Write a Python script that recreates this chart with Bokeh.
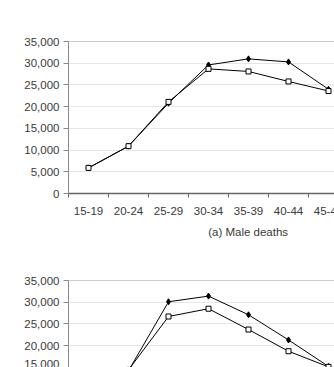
from bokeh.plotting import figure
from bokeh.layouts import column
from bokeh.models import Range1d, FixedTicker, NumeralTickFormatter, Span
from bokeh.core.properties import value
from bokeh.embed import file_html
from bokeh.resources import INLINE

# Age groups on the category axis
age_groups = ["15-19", "20-24", "25-29", "30-34", "35-39", "40-44", "45-49"]

# Male deaths, two series (open squares / filled diamonds)
male_open = [5900, 10900, 21100, 28700, 28100, 25800, 23600]
male_filled = [5900, 10900, 20800, 29600, 31000, 30300, 24000]

# Female deaths, two series (open squares / filled diamonds)
female_open = [5300, 14400, 26700, 28500, 23700, 18700, 15100]
female_filled = [5400, 14200, 30100, 31400, 27100, 21300, 15200]

y_ticks = [0, 5000, 10000, 15000, 20000, 25000, 30000, 35000]

heading = "and female deaths in 2009/2010"
caption_male = "(a) Male deaths"

FONT = "Liberation Sans"
TXT = "#3a3a3a"

centers = [i + 0.5 for i in range(len(age_groups))]
x_range = Range1d(0, 6.65)


def strip(height):
    """A bare strip sharing the x scale, used only to carry text."""
    f = figure(width=334, height=height, x_range=x_range,
               y_range=Range1d(0, height), output_backend="svg",
               toolbar_location=None, min_border_left=68, min_border_right=0,
               min_border_top=0, min_border_bottom=0)
    f.axis.visible = False
    f.grid.visible = False
    f.outline_line_color = None
    return f


def style_y(p):
    ax = p.yaxis[0]
    ax.ticker = FixedTicker(ticks=y_ticks, minor_ticks=[])
    ax.formatter = NumeralTickFormatter(format="0,0")
    ax.major_tick_out = 5
    ax.major_tick_in = 0
    ax.axis_line_color = "#8a8a8a"
    ax.major_tick_line_color = "#8a8a8a"
    ax.major_label_text_font = FONT
    ax.major_label_text_font_size = "11.5px"
    ax.major_label_text_color = TXT
    ax.major_label_standoff = 4
    p.ygrid.ticker = FixedTicker(ticks=y_ticks)
    p.ygrid.grid_line_color = "#e6e6e6"
    p.xgrid.grid_line_color = None
    p.outline_line_color = None
    p.add_layout(Span(location=35000, dimension="width",
                      line_color="#9a9a9a", line_width=1))


def draw_series(p, open_vals, filled_vals):
    p.line(centers, filled_vals, line_color="black", line_width=1)
    p.scatter(centers, filled_vals, marker="diamond", size=6,
              fill_color="black", line_color="black")
    p.line(centers, open_vals, line_color="black", line_width=1)
    p.scatter(centers, open_vals, marker="square", size=5,
              fill_color="white", line_color="black", line_width=1)


# Heading line, only its lower edge falls inside the page
top_strip = strip(4)
top_strip.text(x=[2.87], y=[2], text=[heading], text_font=value(FONT),
               text_font_size="10.5px", text_color="#666666",
               text_align="center", text_baseline="alphabetic")

# Top panel: male deaths
p1 = figure(width=334, height=196, x_range=x_range, y_range=Range1d(0, 35000),
            output_backend="svg", toolbar_location=None,
            min_border_left=68, min_border_right=0,
            min_border_top=37, min_border_bottom=7)
style_y(p1)
xa = p1.xaxis[0]
# tick marks sit on the category boundaries; the names are drawn below
xa.ticker = FixedTicker(ticks=[], minor_ticks=list(range(len(age_groups) + 1)))
xa.major_tick_out = 0
xa.major_label_text_font_size = "0px"
xa.major_label_standoff = 0
xa.minor_tick_out = 4
xa.minor_tick_in = 0
xa.minor_tick_line_color = "#666666"
xa.axis_line_color = "#666666"
xa.axis_line_width = 1.5
draw_series(p1, male_open, male_filled)

# Category names under the top panel
name_strip = strip(20)
name_strip.text(x=centers, y=[9.5] * len(centers), text=age_groups,
                text_font=value(FONT), text_font_size="11.5px",
                text_color=TXT, text_align="center", text_baseline="middle")

# Caption under the top panel
cap_strip = strip(40)
cap_strip.text(x=[4.49], y=[29], text=[caption_male], text_font=value(FONT),
               text_font_size="11.5px", text_color=TXT,
               text_align="center", text_baseline="middle")

# Bottom panel: female deaths
p2 = figure(width=334, height=107, x_range=x_range, y_range=Range1d(14950, 35000),
            output_backend="svg", toolbar_location=None,
            min_border_left=68, min_border_right=0,
            min_border_top=20, min_border_bottom=0)
style_y(p2)
p2.xaxis.visible = False
draw_series(p2, female_open, female_filled)

layout = column(top_strip, p1, name_strip, cap_strip, p2, spacing=0)
open("out.html", "w").write(file_html(layout, INLINE))
